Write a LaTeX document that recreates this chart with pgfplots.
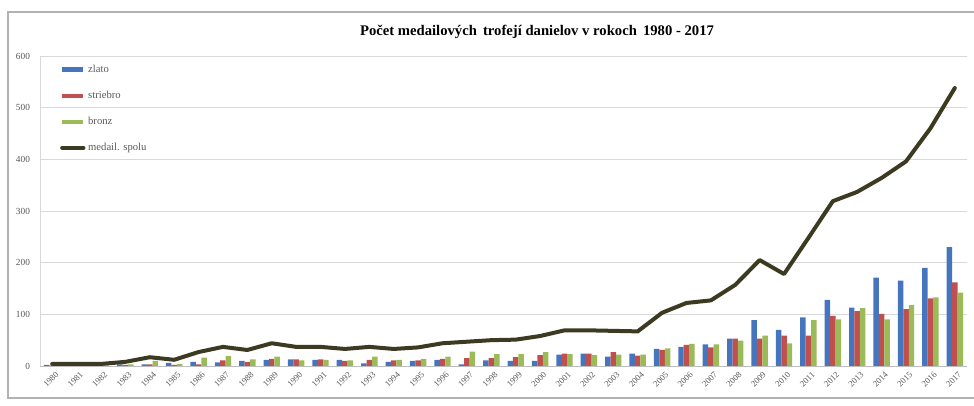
\documentclass[border=0pt]{standalone}
\usepackage{fontspec}
\setmainfont{Liberation Serif}
\usepackage{pgfplots}
\usepackage{pgfplotstable}
\pgfplotsset{compat=1.18}
\definecolor{cz}{HTML}{4675C0}
\definecolor{cs}{HTML}{C0504D}
\definecolor{cb}{HTML}{9BBB59}
\definecolor{cl}{HTML}{3D3A22}
\definecolor{gridc}{HTML}{D9D9D9}
\definecolor{txt}{HTML}{595959}
\pgfplotstableread{
year z s b t
1980 2 1 1 4
1981 2 1 1 4
1982 2 1 1 4
1983 3 2 3 8
1984 3 3 10 17
1985 6 2 4 12
1986 8 3 16 27
1987 7 11 19 37
1988 10 8 13 31
1989 12 14 18 44
1990 13 13 11 37
1991 12 13 12 37
1992 12 10 11 33
1993 5 12 18 37
1994 8 11 12 33
1995 10 11 14 36
1996 12 14 18 44
1997 3 15 28 47
1998 11 15 23 50
1999 10 17 23 51
2000 10 21 27 58
2001 22 24 23 69
2002 24 24 21 69
2003 18 27 22 68
2004 24 20 22 67
2005 33 31 34 103
2006 37 41 43 122
2007 42 36 42 127
2008 53 53 49 157
2009 89 53 59 205
2010 70 59 44 178
2011 94 59 89 248
2012 128 97 90 319
2013 113 106 112 337
2014 171 101 90 364
2015 165 110 118 396
2016 190 131 133 460
2017 230 162 142 538
}\data
\begin{document}
\begin{tikzpicture}
\useasboundingbox (-30pt,-30pt) rectangle (700.5pt,274.5pt);
\draw[gray!60, line width=0.8pt] (706pt,-24pt) -- (-24pt,-24pt) -- (-24pt,265.5pt) -- (706pt,265.5pt);
\node[font=\bfseries\fontsize{11}{13}\selectfont] at (372.75pt,250.5pt) {Počet medailových \,trofejí danielov v rokoch \,1980 - 2017};
\begin{axis}[
  at={(0pt,0pt)}, anchor=south west,
  scale only axis, width=695.25pt, height=232.5pt,
  xmin=1979.5, xmax=2017.5, ymin=0, ymax=600,
  ytick={0,100,...,600},
  xtick=data,
  ymajorgrids, grid style={gridc, line width=0.6pt},
  axis x line*=bottom, axis y line*=left,
  x axis line style={gridc!70!gray, line width=0.6pt},
  y axis line style={gridc, line width=0.6pt},
  major tick length=0pt,
  /pgf/number format/assume math mode=true,
  /pgf/number format/1000 sep={},
  y tick label style={font=\fontsize{7}{8}\selectfont, text=txt, xshift=-4pt},
  x tick label style={font=\fontsize{6.5}{7}\selectfont, text=txt, rotate=45, anchor=north east, inner sep=1pt, yshift=-3pt},
  ybar=0pt, bar width=4.1pt,
  legend style={at={(0.02,0.985)}, anchor=north west, draw=none, fill=none,
    font=\fontsize{8}{9}\selectfont, text=txt, row sep=8.5pt, cells={anchor=west}, inner sep=1pt},
  legend cell align=left,
]
\addplot[fill=cz, draw=none, legend image code/.code={\fill[cz] (0pt,-1.6pt) rectangle (16pt,1.6pt);}] table[x=year,y=z] {\data};
\addlegendentry{zlato}
\addplot[fill=cs, draw=none, legend image code/.code={\fill[cs] (0pt,-1.6pt) rectangle (16pt,1.6pt);}] table[x=year,y=s] {\data};
\addlegendentry{striebro}
\addplot[fill=cb, draw=none, legend image code/.code={\fill[cb] (0pt,-1.6pt) rectangle (16pt,1.6pt);}] table[x=year,y=b] {\data};
\addlegendentry{bronz}
\addplot[sharp plot, cl, line width=3pt, line join=round, line cap=round, mark=none, legend image code/.code={\draw[cl, line width=3pt] (0pt,0pt) -- (16pt,0pt);}] table[x=year,y=t] {\data};
\addlegendentry{medail. spolu}
\end{axis}
\end{tikzpicture}
\end{document}
